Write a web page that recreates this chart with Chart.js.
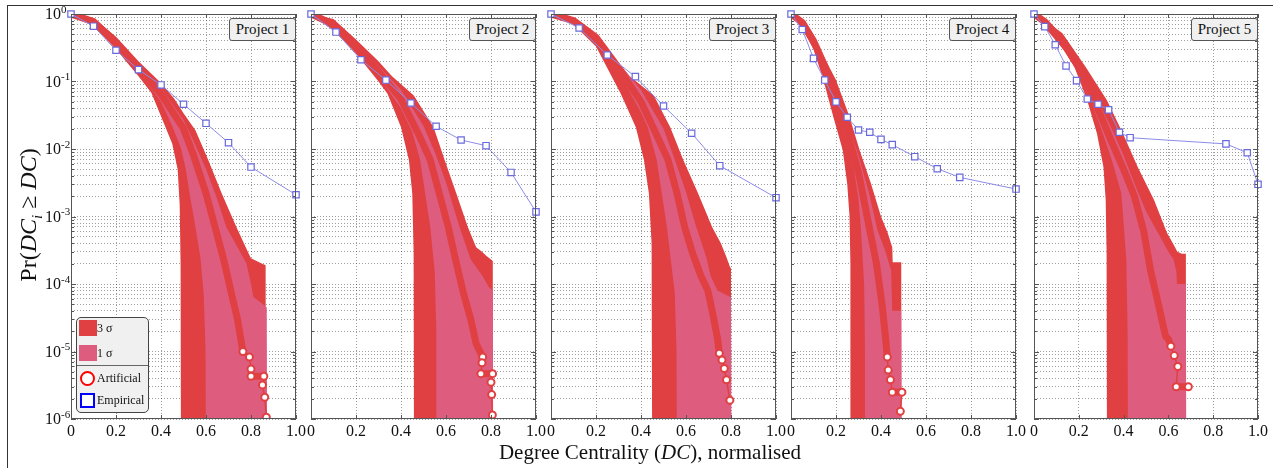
<!DOCTYPE html>
<html>
<head>
<meta charset="utf-8">
<title>Degree centrality CCDF</title>
<script src="https://cdn.jsdelivr.net/npm/chart.js@4.4.1/dist/chart.umd.min.js"></script>
<style>
  html, body { margin: 0; padding: 0; background: #fff; }
  body { position: relative; width: 1273px; height: 468px; overflow: hidden;
         font-family: "Liberation Serif", "Times New Roman", serif; color: #111; }
  canvas { position: absolute; top: 0; }
  #frame { position: absolute; left: 7px; top: 5px; width: 1300px; height: 500px;
           border: 1px solid #333; box-sizing: border-box; }
  .tag { position: absolute; top: 18px; width: 67px; height: 23px; box-sizing: border-box;
         border: 1px solid #555; border-radius: 3px; background: #f0f0f0;
         font-size: 15px; line-height: 21px; text-align: center; }
  #ytitle { position: absolute; left: -72px; top: 200px; width: 200px; height: 30px;
            text-align: center; font-size: 24px; line-height: 30px; transform: rotate(-90deg); }
  #xtitle { position: absolute; left: 400px; top: 439px; width: 500px; text-align: center;
            font-size: 21px; line-height: 26px; }
  #legend { position: absolute; left: 76px; top: 317px; width: 73px; height: 96px; box-sizing: border-box;
            border: 1px solid #444; border-radius: 5px; background: #f0f0f0; font-size: 12px; }
  #legend .sw { position: absolute; left: 2px; width: 18px; height: 16px; }
  #legend .txt { position: absolute; left: 20px; height: 16px; line-height: 16px; white-space: nowrap; }
  #legend .sep { position: absolute; left: 0; right: 0; top: 47px; border-top: 1px solid #666; }
</style>
</head>
<body>
<div id="frame"></div>

<script>
// ---- data ----
// band edges and mean of the artificial networks, [x, Pr] pairs; 1e-7 = zero (below axis)
const P1_HI3 = [[0,1],[0.1,0.87],[0.2,0.46],[0.3,0.2],[0.4,0.095],[0.46,0.055],[0.5,0.034],[0.553,0.019],[0.61,6.9e-3],[0.67,2.2e-3],[0.735,7e-4],[0.79,2.8e-4],[0.8,2.4e-4],[0.85,2e-4],[0.865,1.9e-4],[0.866,1e-7],[0.875,1e-7]];
const P1_LO3 = [[0,0.97],[0.1,0.66],[0.2,0.3],[0.3,0.12],[0.357,0.068],[0.42,0.021],[0.45,0.012],[0.474,5e-3],[0.483,1.5e-3],[0.487,2e-4],[0.489,1e-7],[0.875,1e-7]];
const P1_HI1 = [[0,1],[0.1,0.82],[0.2,0.42],[0.3,0.18],[0.4,0.08],[0.5,0.027],[0.55,0.012],[0.6,5e-3],[0.65,1.8e-3],[0.69,7e-4],[0.74,3.5e-4],[0.78,2e-4],[0.8,1e-4],[0.81,6.5e-5],[0.857,4.9e-5],[0.87,4.5e-5],[0.872,1e-7],[0.875,1e-7]];
const P1_LO1 = [[0,0.99],[0.1,0.72],[0.2,0.34],[0.3,0.14],[0.4,0.05],[0.45,0.022],[0.49,0.01],[0.51,5e-3],[0.527,2.2e-3],[0.553,7e-4],[0.575,2.5e-4],[0.59,7e-5],[0.598,1e-5],[0.6,1e-7],[0.875,1e-7]];
const P1_MEAN = [[0,1],[0.1,0.77],[0.2,0.38],[0.3,0.16],[0.4,0.065],[0.5,0.02],[0.545,8e-3],[0.6,2.2e-3],[0.64,7e-4],[0.68,2.2e-4],[0.71,8e-5],[0.74,3e-5],[0.764,1e-5],[0.793,8.3e-6],[0.8,5.5e-6],[0.8,4.3e-6],[0.857,4.3e-6],[0.851,3.2e-6],[0.861,2.1e-6],[0.868,1.06e-6]];
const P1_EMP_X = [0,0.1,0.2,0.3,0.4,0.5,0.6,0.7,0.8,1];
const P1_EMP_Y = [1,0.66,0.29,0.15,0.089,0.046,0.024,0.0124,0.0054,0.0021];

const P2_HI3 = [[0,1],[0.1,0.84],[0.2,0.42],[0.3,0.2],[0.36,0.12],[0.457,0.062],[0.545,0.021],[0.594,6.9e-3],[0.646,2.2e-3],[0.697,7e-4],[0.734,3.5e-4],[0.76,3e-4],[0.78,2.6e-4],[0.8,2.3e-4],[0.808,2.2e-4],[0.809,1e-7],[0.815,1e-7]];
const P2_LO3 = [[0,0.97],[0.1,0.57],[0.2,0.26],[0.3,0.1],[0.34,0.066],[0.4,0.021],[0.435,6.9e-3],[0.45,2.2e-3],[0.456,3e-4],[0.458,1e-7],[0.815,1e-7]];
const P2_HI1 = [[0,1],[0.1,0.78],[0.2,0.38],[0.3,0.17],[0.4,0.075],[0.5,0.022],[0.55,9e-3],[0.6,3.2e-3],[0.66,7e-4],[0.71,2.3e-4],[0.763,1.3e-4],[0.79,9e-5],[0.808,8e-5],[0.81,1e-7],[0.815,1e-7]];
const P2_LO1 = [[0,0.99],[0.1,0.64],[0.2,0.3],[0.3,0.12],[0.4,0.04],[0.45,0.018],[0.485,6.9e-3],[0.53,7e-4],[0.55,1.5e-4],[0.557,2e-5],[0.559,1e-7],[0.815,1e-7]];
const P2_MEAN = [[0,1],[0.1,0.7],[0.2,0.34],[0.3,0.14],[0.4,0.055],[0.48,0.016],[0.53,6.9e-3],[0.57,2.2e-3],[0.61,7e-4],[0.64,2.5e-4],[0.677,7.4e-5],[0.71,3e-5],[0.734,1.3e-5],[0.763,8.3e-6],[0.76,6.8e-6],[0.755,4.7e-6],[0.807,4.7e-6],[0.8,3.5e-6],[0.803,2.3e-6],[0.806,1.15e-6]];
const P2_EMP_X = [0,0.111,0.222,0.333,0.444,0.556,0.667,0.778,0.889,1];
const P2_EMP_Y = [1,0.54,0.21,0.105,0.048,0.0217,0.0136,0.0112,0.0045,0.00117];

const P3_HI3 = [[0,1],[0.1,0.85],[0.2,0.5],[0.28,0.23],[0.35,0.12],[0.457,0.062],[0.53,0.021],[0.588,6.9e-3],[0.654,2.2e-3],[0.716,7e-4],[0.755,4e-4],[0.78,2.5e-4],[0.795,1.8e-4],[0.8,1.7e-4],[0.801,1e-7],[0.805,1e-7]];
const P3_LO3 = [[0,0.97],[0.1,0.7],[0.2,0.33],[0.31,0.066],[0.377,0.021],[0.413,6.9e-3],[0.435,2.2e-3],[0.447,4e-4],[0.45,1e-7],[0.805,1e-7]];
const P3_HI1 = [[0,1],[0.1,0.82],[0.2,0.48],[0.3,0.19],[0.4,0.075],[0.5,0.02],[0.55,7e-3],[0.6,2.3e-3],[0.64,8e-4],[0.69,2.5e-4],[0.71,1.3e-4],[0.74,8e-5],[0.8,6.3e-5],[0.802,1e-7],[0.805,1e-7]];
const P3_LO1 = [[0,0.99],[0.1,0.77],[0.2,0.42],[0.3,0.14],[0.4,0.035],[0.43,0.021],[0.47,6.9e-3],[0.515,7e-4],[0.55,7.4e-5],[0.558,1e-5],[0.56,1e-7],[0.805,1e-7]];
const P3_MEAN = [[0,1],[0.1,0.8],[0.2,0.45],[0.3,0.16],[0.4,0.05],[0.47,0.016],[0.52,6.9e-3],[0.56,2.2e-3],[0.594,7e-4],[0.63,2.8e-4],[0.667,1.3e-4],[0.697,8e-5],[0.72,3.5e-5],[0.741,1.5e-5],[0.748,9.4e-6],[0.76,7.5e-6],[0.77,5.6e-6],[0.78,3.8e-6],[0.795,1.9e-6]];
const P3_EMP_X = [0,0.125,0.25,0.375,0.5,0.625,0.75,1];
const P3_EMP_Y = [1,0.62,0.247,0.118,0.0434,0.0171,0.00566,0.0019];

const P4_HI3 = [[0,1],[0.05,0.8],[0.093,0.52],[0.15,0.22],[0.2,0.105],[0.26,0.03],[0.305,9.6e-3],[0.355,3.1e-3],[0.4,1e-3],[0.43,5.7e-4],[0.45,3.5e-4],[0.452,2.1e-4],[0.49,2.1e-4],[0.491,1e-7],[0.495,1e-7]];
const P4_LO3 = [[0,0.97],[0.05,0.6],[0.1,0.3],[0.144,0.105],[0.188,0.03],[0.23,9.6e-3],[0.25,3e-3],[0.26,1e-3],[0.264,2e-4],[0.266,1e-7],[0.495,1e-7]];
const P4_HI1 = [[0,1],[0.05,0.78],[0.1,0.45],[0.15,0.2],[0.2,0.08],[0.25,0.025],[0.3,8e-3],[0.35,2e-3],[0.384,6.3e-4],[0.42,3e-4],[0.445,1.6e-4],[0.45,4e-5],[0.49,4e-5],[0.492,1e-7],[0.495,1e-7]];
const P4_LO1 = [[0,0.99],[0.05,0.7],[0.1,0.37],[0.15,0.15],[0.2,0.045],[0.25,0.012],[0.28,5e-3],[0.3,1.8e-3],[0.311,6.3e-4],[0.325,1e-4],[0.329,1e-5],[0.33,1e-7],[0.495,1e-7]];
const P4_MEAN = [[0,1],[0.05,0.75],[0.1,0.4],[0.15,0.17],[0.2,0.06],[0.25,0.018],[0.3,4.5e-3],[0.35,6.3e-4],[0.38,2e-4],[0.406,4.6e-5],[0.42,1.6e-5],[0.428,8.3e-6],[0.432,5.3e-6],[0.442,3.8e-6],[0.45,2.5e-6],[0.493,2.5e-6],[0.486,1.3e-6]];
const P4_EMP_X = [0,0.05,0.1,0.15,0.2,0.25,0.3,0.35,0.4,0.45,0.55,0.65,0.75,1];
const P4_EMP_Y = [1,0.59,0.22,0.105,0.05,0.0295,0.0191,0.0177,0.0139,0.0116,0.0077,0.0051,0.0038,0.00255];

const P5_HI3 = [[0,1],[0.05,0.8],[0.127,0.52],[0.23,0.166],[0.325,0.053],[0.397,0.017],[0.463,5.4e-3],[0.536,1.75e-3],[0.594,5.7e-4],[0.62,4e-4],[0.64,3e-4],[0.66,2.8e-4],[0.678,2.8e-4],[0.679,1e-7],[0.69,1e-7]];
const P5_LO3 = [[0,0.97],[0.07,0.52],[0.13,0.3],[0.18,0.166],[0.237,0.053],[0.281,0.017],[0.31,5.4e-3],[0.32,1.75e-3],[0.324,3e-4],[0.326,1e-7],[0.69,1e-7]];
const P5_HI1 = [[0,1],[0.05,0.78],[0.1,0.55],[0.15,0.34],[0.2,0.19],[0.25,0.095],[0.3,0.042],[0.35,0.019],[0.4,8e-3],[0.45,3e-3],[0.5,1.2e-3],[0.55,6e-4],[0.6,3e-4],[0.623,2.3e-4],[0.636,1.5e-4],[0.638,1e-4],[0.678,1e-4],[0.68,1e-7],[0.69,1e-7]];
const P5_LO1 = [[0,0.99],[0.05,0.72],[0.1,0.45],[0.15,0.26],[0.2,0.13],[0.25,0.055],[0.3,0.02],[0.35,6.5e-3],[0.39,2.2e-3],[0.412,2.3e-4],[0.418,2e-5],[0.42,1e-7],[0.69,1e-7]];
const P5_MEAN = [[0,1],[0.05,0.76],[0.1,0.5],[0.15,0.3],[0.2,0.16],[0.25,0.075],[0.3,0.03],[0.35,0.012],[0.4,5e-3],[0.448,2e-3],[0.49,6e-4],[0.52,1.6e-4],[0.55,6e-5],[0.587,1.7e-5],[0.601,1.5e-5],[0.611,1.2e-5],[0.626,8.7e-6],[0.642,6e-6],[0.635,3e-6],[0.689,3e-6]];
const P5_EMP_X = [0,0.048,0.095,0.143,0.19,0.238,0.286,0.333,0.381,0.429,0.857,0.952,1];
const P5_EMP_Y = [1,0.65,0.35,0.17,0.103,0.055,0.046,0.038,0.0177,0.0147,0.0119,0.0088,0.003];

const TITLES = ['Project 1', 'Project 2', 'Project 3', 'Project 4', 'Project 5'];
const Y_EXPONENTS = [0, -1, -2, -3, -4, -5, -6];

// ---- look ----
const RED = 'rgb(224,64,66)';
const PINK = 'rgb(222,92,126)';
const EMP_LINE = 'rgb(140,140,232)';
const EMP_PT = 'rgb(105,105,222)';
const GRID = 'rgba(0,0,0,0.38)';
const SERIF = "'Liberation Serif', 'Times New Roman', serif";
const TAIL = 1.25e-5;   // below this the artificial mean shows single markers

// plot areas: left edge and width of each panel in pixels
const PLOT_LEFT = [71, 311, 551, 791, 1034];
const PLOT_W = [230, 230, 230, 230, 229];
const CANVAS_H = 440, TOP = 14, X_AXIS_H = 21;

const panels = [
  [P1_HI3, P1_LO3, P1_HI1, P1_LO1, P1_MEAN, P1_EMP_X, P1_EMP_Y],
  [P2_HI3, P2_LO3, P2_HI1, P2_LO1, P2_MEAN, P2_EMP_X, P2_EMP_Y],
  [P3_HI3, P3_LO3, P3_HI1, P3_LO1, P3_MEAN, P3_EMP_X, P3_EMP_Y],
  [P4_HI3, P4_LO3, P4_HI1, P4_LO1, P4_MEAN, P4_EMP_X, P4_EMP_Y],
  [P5_HI3, P5_LO3, P5_HI1, P5_LO1, P5_MEAN, P5_EMP_X, P5_EMP_Y]
];

// gridline positions on the log axis (1..9 x each decade)
const Y_GRID = [];
Y_EXPONENTS.forEach(e => {
  for (let m = 1; m <= 9; m++) {
    const v = m * Math.pow(10, e);
    if (v <= 1.0000001) Y_GRID.push(v);
  }
});

const pts = arr => arr.map(p => ({ x: p[0], y: p[1] }));
const zip = (xs, ys) => xs.map((x, i) => ({ x: x, y: ys[i] }));
const isDecade = v => Math.abs(Math.log10(v) - Math.round(Math.log10(v))) < 1e-6;

// frame, inward tick marks and (first panel) the 10^n labels
const panelFrame = {
  id: 'panelFrame',
  afterDatasetsDraw(chart, args, opts) {
    const { ctx, chartArea: a } = chart;
    const xs = chart.scales.x, ys = chart.scales.y;
    ctx.save();
    ctx.strokeStyle = '#555';
    ctx.lineWidth = 1;
    ctx.beginPath();
    xs.ticks.forEach(t => {
      const px = Math.round(xs.getPixelForValue(t.value)) + 0.5;
      ctx.moveTo(px, a.bottom); ctx.lineTo(px, a.bottom - 4);
      ctx.moveTo(px, a.top); ctx.lineTo(px, a.top + 4);
    });
    ys.ticks.forEach(t => {
      const py = Math.round(ys.getPixelForValue(t.value)) + 0.5;
      const len = isDecade(t.value) ? 5 : 3;
      ctx.moveTo(a.left, py); ctx.lineTo(a.left + len, py);
      ctx.moveTo(a.right, py); ctx.lineTo(a.right - len, py);
    });
    ctx.stroke();
    ctx.strokeRect(a.left + 0.5, a.top + 0.5, a.right - a.left - 1, a.bottom - a.top - 1);

    if (opts.yLabels) {
      ctx.fillStyle = '#111';
      ctx.textAlign = 'left';
      ctx.textBaseline = 'middle';
      Y_EXPONENTS.forEach(e => {
        const py = ys.getPixelForValue(Math.pow(10, e));
        ctx.font = '16px ' + SERIF;
        ctx.fillText('10', 45, py + 1);
        const w = ctx.measureText('10').width;
        ctx.font = '11px ' + SERIF;
        ctx.fillText(String(e), 45 + w, py - 4);
      });
    }
    ctx.restore();
  }
};

function band(data, target, color, order) {
  return {
    data: pts(data), showLine: true, tension: 0,
    borderWidth: 0, borderColor: 'rgba(0,0,0,0)', pointRadius: 0,
    backgroundColor: color,
    fill: target === null ? false : { target: target, above: color, below: color },
    order: order
  };
}

panels.forEach((p, i) => {
  const [hi3, lo3, hi1, lo1, mean, ex, ey] = p;
  const padL = i === 0 ? PLOT_LEFT[0] : 8;
  const padR = 8;
  const cv = document.createElement('canvas');
  cv.width = padL + PLOT_W[i] + padR;
  cv.height = CANVAS_H;
  cv.style.left = (PLOT_LEFT[i] - padL) + 'px';
  document.body.appendChild(cv);

  new Chart(cv.getContext('2d'), {
    type: 'scatter',
    data: {
      datasets: [
        band(hi3, 1, RED, 6),
        band(lo3, null, RED, 6),
        band(hi1, 3, PINK, 5),
        band(lo1, null, PINK, 5),
        {
          data: pts(mean), showLine: true, tension: 0, order: 2,
          borderColor: RED, borderWidth: 7,
          borderCapStyle: 'round', borderJoinStyle: 'round',
          segment: {
            borderWidth: c => (c.p0.parsed.y < TAIL && c.p0.parsed.y !== c.p1.parsed.y) ? 1.5 : 7
          },
          pointRadius: c => (c.raw && c.raw.y < TAIL) ? 3.5 : 0,
          pointBackgroundColor: '#fff', pointBorderColor: RED, pointBorderWidth: 2
        },
        {
          data: zip(ex, ey), showLine: true, tension: 0, order: 1, clip: false,
          borderColor: EMP_LINE, borderWidth: 1,
          pointStyle: 'rect', pointRadius: 4.5,
          pointBackgroundColor: '#fff', pointBorderColor: EMP_PT, pointBorderWidth: 1.2
        }
      ]
    },
    options: {
      responsive: false,
      animation: false,
      events: [],
      layout: { padding: { left: padL, right: padR, top: TOP, bottom: 0 } },
      plugins: {
        legend: { display: false },
        tooltip: { enabled: false },
        panelFrame: { yLabels: i === 0 }
      },
      scales: {
        x: {
          type: 'linear', min: 0, max: 1,
          afterFit: s => { s.height = X_AXIS_H; },
          ticks: { stepSize: 0.2, autoSkip: false, maxRotation: 0, padding: 3,
                   color: '#111', font: { family: SERIF, size: 16 } },
          grid: { color: GRID, lineWidth: 1, drawTicks: false },
          border: { display: false, dash: [1, 2] }
        },
        y: {
          type: 'logarithmic', min: 1e-6, max: 1,
          afterFit: s => { s.width = 0; },
          afterBuildTicks: s => { s.ticks = Y_GRID.map(v => ({ value: v })); },
          ticks: { display: false },
          grid: { color: GRID, lineWidth: 1, drawTicks: false },
          border: { display: false, dash: [1, 2] }
        }
      }
    },
    plugins: [panelFrame]
  });

  const tag = document.createElement('div');
  tag.className = 'tag';
  tag.textContent = TITLES[i];
  tag.style.left = (PLOT_LEFT[i] + PLOT_W[i] - 72) + 'px';
  document.body.appendChild(tag);
});
</script>

<div id="legend">
  <div class="sw" style="top:2px;background:rgb(224,64,66)"></div>
  <div class="txt" style="top:2px">3 σ</div>
  <div class="sw" style="top:27px;background:rgb(222,92,126)"></div>
  <div class="txt" style="top:27px">1 σ</div>
  <div class="sep"></div>
  <div style="position:absolute;left:3px;top:53px;width:11px;height:11px;border:2px solid #f00;border-radius:50%;background:#fff"></div>
  <div class="txt" style="top:52px">Artificial</div>
  <div style="position:absolute;left:3px;top:75px;width:11px;height:11px;border:2px solid #00f;background:#fff"></div>
  <div class="txt" style="top:74px">Empirical</div>
</div>

<div id="ytitle">Pr(<i>DC<sub style="font-size:15px">i</sub></i> ≥ <i>DC</i>)</div>
<div id="xtitle">Degree Centrality (<i>DC</i>), normalised</div>
</body>
</html>
